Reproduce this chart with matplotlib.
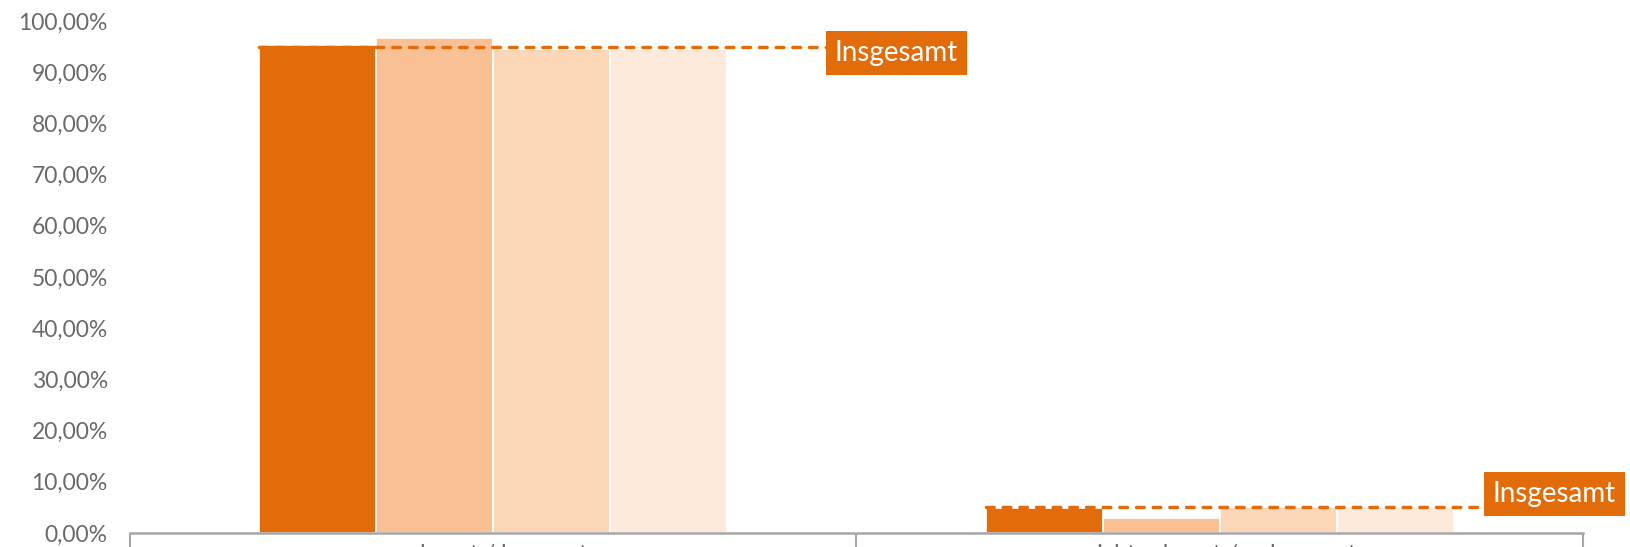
import matplotlib
matplotlib.use("Agg")
import numpy as np
import matplotlib.pyplot as plt

# Daten
kategorien = ["erkannt / bewusst", "nicht erkannt / unbewusst"]
reihe_1 = [0.953, 0.048]
reihe_2 = [0.967, 0.030]
reihe_3 = [0.945, 0.050]
reihe_4 = [0.945, 0.050]
insgesamt = [0.950, 0.051]
label_insgesamt = "Insgesamt"

farben = ["#E36C0A", "#F9C193", "#FBD6B7", "#FDEADB"]
orange = "#E36C0A"
grau = "#A6A6A6"
textgrau = "#6A6A6A"

plt.rcParams["font.family"] = ["Lato", "DejaVu Sans"]

fig = plt.figure(figsize=(16.31, 5.47), dpi=100)
ax = fig.add_axes([130 / 1631, 14 / 547, 1453 / 1631, 512 / 547])

x = np.array([0.5, 1.5])
breite = 0.161
reihen = [reihe_1, reihe_2, reihe_3, reihe_4]
for i, werte in enumerate(reihen):
    ax.bar(x + (i - 1.5) * breite, werte, width=breite, color=farben[i],
           edgecolor="white", linewidth=1.2, zorder=2)

# gestrichelte Linie "Insgesamt" mit Beschriftung
label_x = [0.959, 1.865]
label_y = [0.938, 0.076]
for k in range(len(kategorien)):
    start = x[k] - 2 * breite
    ax.plot([start, label_x[k]], [insgesamt[k], insgesamt[k]], color=orange,
            linewidth=2.5, linestyle=(0, (2.2, 2.6)), dash_capstyle="round",
            zorder=3)
    ax.text(label_x[k] + 0.011, label_y[k], label_insgesamt, color="white",
            fontsize=20, ha="left", va="center", zorder=4,
            bbox=dict(boxstyle="square,pad=0.33", fc=orange, ec="none"))

ax.set_xlim(0, 2)
ax.set_ylim(0, 1)

ax.set_yticks(np.arange(0, 1.01, 0.1))
ax.set_yticklabels([f"{v:.2f}".replace(".", ",") + "%" for v in np.arange(0, 101, 10)])
ax.tick_params(axis="y", length=0, pad=16, labelsize=16.5, labelcolor=textgrau)

ax.set_xticks([0, 1, 2])
ax.set_xticklabels([])
ax.set_xticks(x, minor=True)
ax.set_xticklabels(kategorien, minor=True)
ax.tick_params(axis="x", which="major", length=15, width=1.5, color=grau,
               direction="out")
ax.tick_params(axis="x", which="minor", length=0, pad=8, labelsize=17,
               labelcolor=textgrau)

for s in ["top", "right", "left"]:
    ax.spines[s].set_visible(False)
ax.spines["bottom"].set_color(grau)
ax.spines["bottom"].set_linewidth(1.8)

fig.savefig("out.png", dpi=100)
